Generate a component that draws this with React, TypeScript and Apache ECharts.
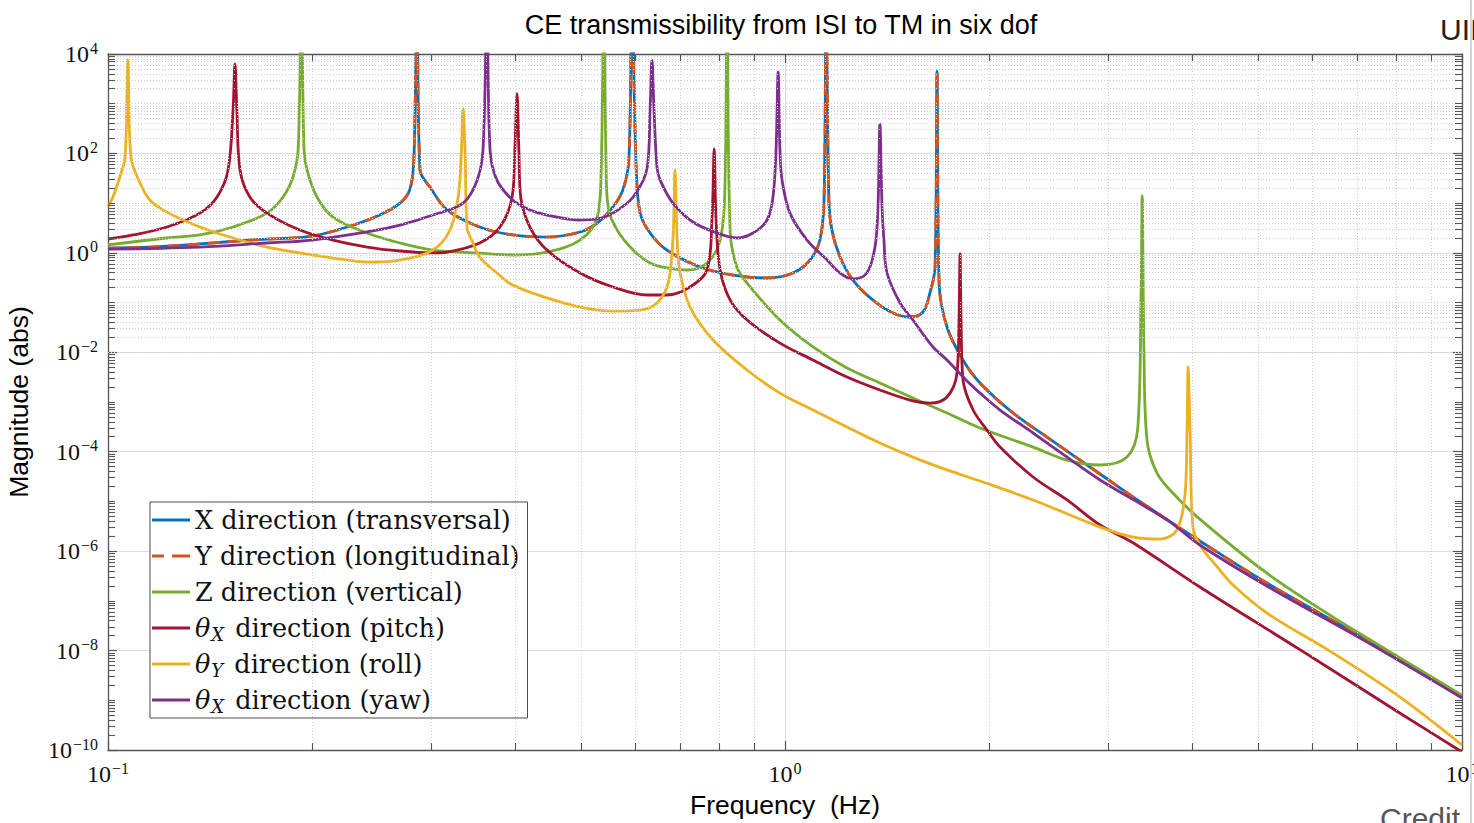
import React, { useEffect, useRef } from "react";
import * as echarts from "echarts";

// ---------- texts ----------
const TITLE = "CE transmissibility from ISI to TM in six dof";
const X_AXIS_NAME = "Frequency  (Hz)";
const Y_AXIS_NAME = "Magnitude (abs)";
const CORNER_TOP_TEXT = "UII";
const CORNER_BOTTOM_TEXT = "Credit";

const SERIES_NAMES = [
  "X direction (transversal)",
  "Y direction (longitudinal)",
  "Z direction (vertical)",
  "θX direction (pitch)",
  "θY direction (roll)",
  "θX direction (yaw)",
];
const SERIES_COLORS = ["#0072BD", "#D95319", "#77AC30", "#A2142F", "#EDB120", "#7E2F8E"];

// ---------- axes ----------
const X_MIN = 0.1;
const X_MAX = 10;
const Y_MIN = 1e-10;
const Y_MAX = 1e4;
const X_MINOR_TICKS = [0.2, 0.3, 0.4, 0.5, 0.6, 0.7, 0.8, 0.9, 2, 3, 4, 5, 6, 7, 8, 9];
const Y_MINOR_MULTIPLIERS = [2, 3, 4, 5, 6, 7, 8, 9];
const Y_ODD_DECADES = [-9, -7, -5, -3, -1, 1, 3];

// ---------- data: [frequency (Hz), magnitude (abs)] ----------
const X_TRANSVERSAL: [number, number][] = [
  [0.1, 1.25], [0.1153, 1.31], [0.1367, 1.51], [0.162, 1.81], [0.2, 2.18], [0.228, 3.47],
  [0.252, 5.77], [0.27, 10], [0.279, 18.4], [0.283, 74], [0.286, 1e5], [0.289, 46],
  [0.299, 21], [0.317, 7.3], [0.354, 3.31], [0.396, 2.29], [0.445, 2.08], [0.498, 2.63],
  [0.528, 3.98], [0.557, 8.4], [0.576, 18.4], [0.588, 74], [0.594, 1e5], [0.603, 46],
  [0.611, 6.3], [0.632, 2.51], [0.669, 1.14], [0.749, 0.52], [0.838, 0.358], [0.941, 0.312],
  [1.027, 0.393], [1.089, 0.718], [1.126, 1.81], [1.142, 11.6], [1.15, 1e5], [1.161, 11.6],
  [1.173, 2.88], [1.206, 0.824], [1.26, 0.284], [1.349, 0.112], [1.444, 0.0617], [1.53, 0.0512],
  [1.599, 0.0646], [1.637, 0.156], [1.666, 0.52], [1.677, 4500], [1.689, 0.247], [1.735, 0.0322],
  [1.832, 0.00698], [1.941, 0.00241], [2.172, 6.0e-4], [2.438, 1.97e-4], [2.92, 3.56e-5],
  [3.27, 1.22e-5], [4.1, 1.6e-6], [5.15, 2.28e-7], [7.24, 1.63e-8], [10, 1.16e-9],
];
// the longitudinal curve coincides with the transversal one in the picture
const Y_LONGITUDINAL: [number, number][] = X_TRANSVERSAL;

const Z_VERTICAL: [number, number][] = [
  [0.1, 1.44], [0.1222, 1.99], [0.1367, 2.29], [0.153, 3.31], [0.1717, 6.3], [0.1814, 13.3],
  [0.1876, 33.6], [0.1909, 117], [0.193, 1e5], [0.1948, 117], [0.1968, 46], [0.2035, 13.3],
  [0.2149, 5.26], [0.2413, 2.51], [0.27, 1.58], [0.302, 1.14], [0.354, 0.99], [0.396, 0.906],
  [0.445, 1.04], [0.498, 1.81], [0.528, 5.26], [0.535, 40], [0.54, 1e5], [0.5443, 46],
  [0.548, 8.4], [0.565, 2.88], [0.5966, 1.14], [0.632, 0.625], [0.669, 0.496], [0.716, 0.452],
  [0.767, 0.625], [0.802, 1.81], [0.815, 18.4], [0.821, 1e5], [0.83, 2.51], [0.849, 0.52],
  [0.879, 0.247], [0.983, 0.0446], [1.1, 0.0128], [1.235, 0.00482], [1.381, 0.00241],
  [1.545, 0.0012], [1.735, 6.0e-4], [1.941, 3.0e-4], [2.325, 1.24e-4], [2.61, 6.8e-5],
  [2.92, 5.4e-5], [3.2, 7.8e-5], [3.32, 3.1e-4], [3.356, 0.112], [3.37, 14], [3.39, 0.0111],
  [3.425, 1.72e-4], [3.544, 3.72e-5], [3.74, 1.48e-5], [4.1, 4.4e-6], [5.15, 3.6e-7],
  [6.45, 4.7e-8], [7.24, 1.79e-8], [10, 1.27e-9],
];

const THETA_X_PITCH: [number, number][] = [
  [0.1, 1.9], [0.1089, 2.29], [0.1222, 3.31], [0.1367, 6.3], [0.1449, 13.3], [0.1504, 46],
  [0.153, 747], [0.154, 6300], [0.155, 747], [0.1567, 46], [0.162, 13.3], [0.1717, 6.3],
  [0.192, 2.88], [0.2149, 1.81], [0.2413, 1.31], [0.27, 1.09], [0.302, 1.0], [0.317, 1.04],
  [0.354, 1.58], [0.3793, 3.31], [0.3953, 13.3], [0.399, 117], [0.402, 1600], [0.4045, 117],
  [0.407, 13.3], [0.42, 3.31], [0.445, 1.14], [0.498, 0.393], [0.557, 0.206], [0.626, 0.142],
  [0.669, 0.142], [0.724, 0.206], [0.767, 0.452], [0.78, 4.58], [0.786, 123], [0.791, 4.58],
  [0.802, 0.452], [0.83, 0.112], [0.879, 0.0446], [0.983, 0.0153], [1.1, 0.00698],
  [1.235, 0.00318], [1.381, 0.00174], [1.545, 0.00105], [1.637, 9.5e-4], [1.735, 0.00126],
  [1.795, 0.00383], [1.807, 0.0446], [1.814, 0.95], [1.82, 0.0446], [1.832, 0.00277],
  [1.896, 6.9e-4], [1.988, 2.73e-4], [2.078, 1.24e-4], [2.325, 3.1e-5], [2.61, 1.07e-5],
  [2.92, 3.35e-6], [3.27, 1.46e-6], [4.1, 1.9e-7], [5.77, 1.03e-8], [8.1, 5.5e-10], [10, 9.1e-11],
];

const THETA_Y_ROLL: [number, number][] = [
  [0.1, 8.75], [0.1017, 13.3], [0.1041, 33.6], [0.106, 85], [0.107, 7600], [0.1081, 85],
  [0.1115, 25.4], [0.1153, 11.6], [0.1222, 6.6], [0.1367, 3.31], [0.153, 1.99], [0.1717, 1.31],
  [0.192, 1.0], [0.2149, 0.787], [0.2413, 0.654], [0.27, 0.718], [0.302, 1.14], [0.32, 2.88],
  [0.329, 13.3], [0.3324, 85], [0.3345, 800], [0.337, 85], [0.339, 3.31], [0.3461, 1.58],
  [0.354, 0.824], [0.3754, 0.393], [0.396, 0.225], [0.445, 0.124], [0.498, 0.0813],
  [0.557, 0.0676], [0.611, 0.0708], [0.647, 0.098], [0.672, 0.247], [0.683, 1.81], [0.688, 46],
  [0.693, 1.81], [0.7, 0.393], [0.724, 0.0813], [0.783, 0.0177], [0.879, 0.0044],
  [0.983, 0.00151], [1.1, 6.9e-4], [1.235, 3.14e-4], [1.381, 1.5e-4], [1.545, 7.8e-5],
  [1.735, 4.3e-5], [1.941, 2.57e-5], [2.325, 1.07e-5], [2.92, 3.05e-6], [3.27, 1.92e-6],
  [3.58, 1.75e-6], [3.79, 2.65e-6], [3.9, 1.48e-5], [3.925, 2.73e-4], [3.94, 0.005],
  [3.965, 2.73e-4], [4.005, 3.05e-6], [4.1, 1.33e-6], [4.35, 4.8e-7], [4.59, 2.08e-7],
  [5.15, 5.7e-8], [6.45, 8.9e-9], [8.1, 1.16e-9], [10, 1.26e-10],
];

const THETA_X_YAW: [number, number][] = [
  [0.1, 1.19], [0.1367, 1.31], [0.1717, 1.58], [0.2, 1.81], [0.2413, 2.63], [0.27, 3.63],
  [0.302, 5.77], [0.3345, 10], [0.351, 29], [0.358, 117], [0.363, 1e5], [0.3667, 117],
  [0.3754, 29], [0.396, 11.6], [0.42, 7.3], [0.445, 5.77], [0.498, 4.58], [0.528, 4.8],
  [0.557, 6.3], [0.5966, 13.3], [0.626, 53], [0.632, 747], [0.636, 7600], [0.6405, 747],
  [0.647, 53], [0.654, 29], [0.683, 10], [0.731, 4.17], [0.794, 2.51], [0.849, 1.99],
  [0.897, 2.51], [0.941, 4.58], [0.96, 13.3], [0.97, 117], [0.977, 4340], [0.983, 117],
  [0.99, 29], [1.017, 6.3], [1.078, 1.81], [1.154, 0.718], [1.206, 0.393], [1.26, 0.298],
  [1.321, 0.393], [1.358, 1.31], [1.372, 8.4], [1.381, 390], [1.391, 8.4], [1.4, 1.81],
  [1.415, 0.393], [1.479, 0.098], [1.545, 0.0446], [1.654, 0.0128], [1.735, 0.00698],
  [1.857, 0.00264], [1.941, 0.00151], [2.078, 6.9e-4], [2.325, 2.38e-4], [2.61, 7.8e-5],
  [2.92, 2.7e-5], [3.67, 4.2e-6], [4.1, 1.33e-6], [5.15, 1.99e-7], [7.24, 1.48e-8], [10, 1.11e-9],
];

const SERIES_DATA = [X_TRANSVERSAL, Y_LONGITUDINAL, Z_VERTICAL, THETA_X_PITCH, THETA_Y_ROLL, THETA_X_YAW];

// ---------- layout / style ----------
const W = 1474;
const H = 823;
const GRID = { left: 108, right: 12, top: 54, bottom: 73 };
const PLOT_W = W - GRID.left - GRID.right;
const PLOT_H = H - GRID.top - GRID.bottom;
const X_DECADE_PX = PLOT_W / 2;
const Y_DECADE_PX = PLOT_H / 14;
const MINOR_TICK_PX = 7;
const AXIS_COLOR = "#555";
const SANS = '"Liberation Sans", Arial, sans-serif';
const SERIF = '"Liberation Serif", "Times New Roman", serif';
const LEGEND_SERIF = '"DejaVu Serif", serif';
const SOLID_ICON = "path://M0,0H38V3H0Z";
const DASHED_ICON = "path://M0,0H12V3H0ZM20,0H38V3H20Z";

function supLabel(v: number) {
  const e = Math.round(Math.log10(v));
  const s = e < 0 ? "\u2212" + Math.abs(e) : String(e);
  return `{b|10}{s|${s}}`;
}

const labelRich = {
  b: { fontFamily: SERIF, fontSize: 24, lineHeight: 28, color: "#111" },
  s: { fontFamily: SERIF, fontSize: 16, lineHeight: 16, verticalAlign: "top", color: "#111", padding: [0, 0, 0, 1] },
};

function buildOption() {
  const yMinor: number[] = [];
  for (let e = -10; e < 4; e++) {
    for (const k of Y_MINOR_MULTIPLIERS) yMinor.push(k * Math.pow(10, e));
  }
  for (const e of Y_ODD_DECADES) yMinor.push(Math.pow(10, e));

  const xf = Math.pow(10, MINOR_TICK_PX / X_DECADE_PX);
  const yf = Math.pow(10, MINOR_TICK_PX / Y_DECADE_PX);

  const gridLines: any[] = [
    ...X_MINOR_TICKS.map((v) => ({ xAxis: v })),
    ...yMinor.map((v) => ({ yAxis: v })),
  ];
  const minorTicks: any[] = [];
  for (const v of yMinor) {
    minorTicks.push([{ coord: [X_MIN, v] }, { coord: [X_MIN * xf, v] }]);
    minorTicks.push([{ coord: [X_MAX / xf, v] }, { coord: [X_MAX, v] }]);
  }
  for (const v of X_MINOR_TICKS) {
    minorTicks.push([{ coord: [v, Y_MIN] }, { coord: [v, Y_MIN * yf] }]);
    minorTicks.push([{ coord: [v, Y_MAX / yf] }, { coord: [v, Y_MAX] }]);
  }

  const axisLine = { show: true, onZero: false, lineStyle: { color: AXIS_COLOR, width: 1.3 } };
  const axisTick = { show: true, inside: true, length: 9, lineStyle: { color: AXIS_COLOR, width: 1.2 } };
  const majorSplit = { show: true, lineStyle: { color: "#dcdcdc", width: 1, type: "solid" } };

  const curveSeries = SERIES_NAMES.map((name, i) => ({
    name,
    type: "line",
    data: SERIES_DATA[i],
    xAxisIndex: 0,
    yAxisIndex: 0,
    symbol: "none",
    showSymbol: false,
    smooth: 0.35,
    clip: true,
    silent: true,
    z: 3,
    color: SERIES_COLORS[i],
    itemStyle: { color: SERIES_COLORS[i] },
    lineStyle: {
      color: SERIES_COLORS[i],
      width: 2.8,
      type: i === 1 ? [12, 8] : "solid",
      join: "round",
    },
  }));

  const legendSerif = { fontFamily: LEGEND_SERIF, color: "#111" };

  return {
    animation: false,
    backgroundColor: "#ffffff",
    title: {
      text: TITLE,
      left: 776,
      top: 6,
      textAlign: "center",
      textStyle: { fontFamily: SANS, fontSize: 27, fontWeight: "normal", color: "#000" },
    },
    legend: {
      data: SERIES_NAMES.map((name, i) => ({ name, icon: i === 1 ? DASHED_ICON : SOLID_ICON })),
      orient: "vertical",
      left: 150,
      top: 502,
      padding: [3, 8, 3, 2],
      itemGap: 6,
      itemWidth: 38,
      itemHeight: 3,
      selectedMode: false,
      backgroundColor: "#ffffff",
      borderColor: "#4d4d4d",
      borderWidth: 1,
      borderRadius: 0,
      textStyle: {
        ...legendSerif,
        fontSize: 25.5,
        lineHeight: 30,
        rich: {
          n: { ...legendSerif, fontSize: 25.5, lineHeight: 30 },
          th: { ...legendSerif, fontStyle: "italic", fontSize: 25.5, lineHeight: 30 },
          sub: { ...legendSerif, fontStyle: "italic", fontSize: 18, lineHeight: 18, verticalAlign: "bottom", padding: [0, 3, 0, 1] },
        },
      },
      formatter: (name: string) => {
        const m = name.match(/^θ([XY])(.*)$/);
        if (m) return `{th|θ}{sub|${m[1]}}{n|${m[2]}}`;
        return `{n|${name}}`;
      },
    },
    grid: { ...GRID, containLabel: false, outerBoundsMode: "none", show: false },
    xAxis: [
      {
        type: "log",
        logBase: 10,
        min: X_MIN,
        max: X_MAX,
        interval: 1,
        position: "bottom",
        name: X_AXIS_NAME,
        nameLocation: "middle",
        nameGap: 41,
        nameTextStyle: { fontFamily: SANS, fontSize: 26.5, color: "#000" },
        axisLine,
        axisTick,
        axisLabel: { show: true, margin: 10, formatter: supLabel, rich: labelRich },
        splitLine: majorSplit,
      },
      {
        type: "log",
        logBase: 10,
        min: X_MIN,
        max: X_MAX,
        interval: 1,
        position: "top",
        axisLine,
        axisTick,
        axisLabel: { show: false },
        splitLine: { show: false },
      },
    ],
    yAxis: [
      {
        type: "log",
        logBase: 10,
        min: Y_MIN,
        max: Y_MAX,
        interval: 2,
        position: "left",
        name: Y_AXIS_NAME,
        nameLocation: "middle",
        nameGap: 76,
        nameRotate: 90,
        nameTextStyle: { fontFamily: SANS, fontSize: 26.5, color: "#000" },
        axisLine,
        axisTick,
        axisLabel: { show: true, margin: 10, formatter: supLabel, rich: labelRich },
        splitLine: majorSplit,
      },
      {
        type: "log",
        logBase: 10,
        min: Y_MIN,
        max: Y_MAX,
        interval: 2,
        position: "right",
        axisLine,
        axisTick,
        axisLabel: { show: false },
        splitLine: { show: false },
      },
    ],
    graphic: [
      {
        type: "text",
        left: 1440,
        top: 14,
        style: { text: CORNER_TOP_TEXT, font: `30px ${SANS}`, fill: "#222" },
      },
      {
        type: "text",
        left: 1380,
        top: 803,
        style: { text: CORNER_BOTTOM_TEXT, font: `30px ${SANS}`, fill: "#555" },
      },
      {
        type: "line",
        shape: { x1: 1471, y1: 0, x2: 1471, y2: H },
        style: { stroke: "#d6d6d6", lineWidth: 2 },
      },
    ],
    series: [
      {
        name: "__minorGrid",
        type: "line",
        data: [],
        silent: true,
        z: 1,
        markLine: {
          silent: true,
          symbol: ["none", "none"],
          label: { show: false },
          animation: false,
          lineStyle: { color: "#cfcfcf", width: 1, type: [1, 2] },
          emphasis: { disabled: true },
          data: gridLines,
        },
      },
      {
        name: "__minorTicks",
        type: "line",
        data: [],
        silent: true,
        z: 2,
        markLine: {
          silent: true,
          symbol: ["none", "none"],
          label: { show: false },
          animation: false,
          lineStyle: { color: AXIS_COLOR, width: 1.1, type: "solid" },
          emphasis: { disabled: true },
          data: minorTicks,
        },
      },
      ...curveSeries,
    ],
  };
}

export default function App() {
  const ref = useRef<HTMLDivElement>(null);
  useEffect(() => {
    if (!ref.current) return;
    const chart = echarts.init(ref.current, undefined, { renderer: "svg" });
    chart.setOption(buildOption() as any);
    return () => chart.dispose();
  }, []);
  return (
    <div
      ref={ref}
      style={{ position: "fixed", left: 0, top: 0, width: W, height: H, background: "#fff" }}
    />
  );
}
